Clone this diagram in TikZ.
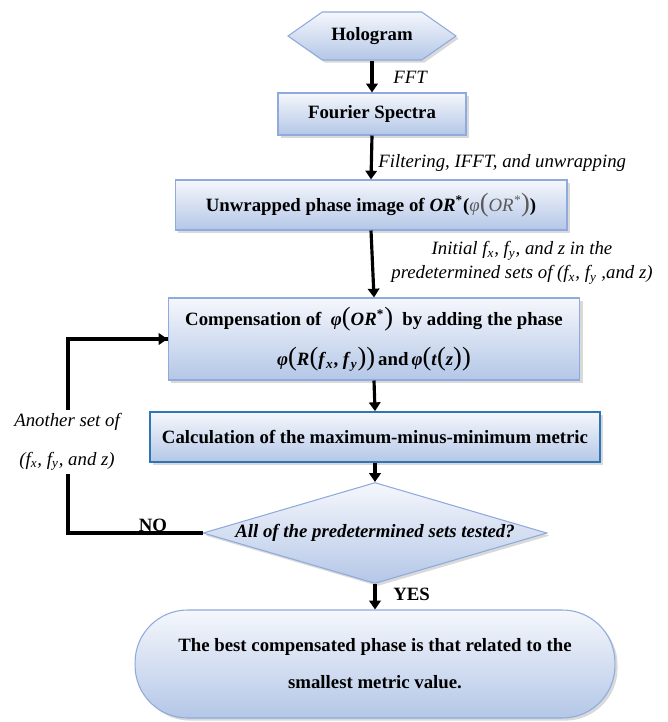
\documentclass[tikz,border=0pt]{standalone}
\usepackage{fontspec}
\setmainfont{Liberation Serif}
\usetikzlibrary{shapes.geometric,shapes.symbols,arrows.meta,shadows}
\definecolor{boxtop}{HTML}{F5F7FC}
\definecolor{boxbot}{HTML}{B4C7E7}
\definecolor{boxline}{HTML}{8FAADC}
\definecolor{calcline}{HTML}{2E75B6}
\definecolor{phasegray}{HTML}{5A5A5A}
\newcommand{\opar}{{\fontsize{15}{15}\selectfont\mdseries\upshape(}}
\newcommand{\cpar}{{\fontsize{15}{15}\selectfont\mdseries\upshape)}}
\newcommand{\bi}[1]{\textbf{\textit{#1}}}

\begin{document}
\begin{tikzpicture}[x=0.02cm,y=-0.02cm,
  font=\fontsize{10.7}{13}\selectfont,
  box/.style={draw=boxline,line width=0.6pt,top color=boxtop,bottom color=boxbot,
    font=\fontsize{10.7}{13}\selectfont\bfseries,align=center,inner sep=0pt,
    drop shadow={shadow xshift=1.5pt,shadow yshift=-1.5pt,opacity=0.3}},
  flow/.style={line width=1.8pt,-{Triangle[length=5pt,width=6.5pt]}},
  lbl/.style={font=\fontsize{10.7}{13}\selectfont\itshape,inner sep=0pt}]
\useasboundingbox (0,0) rectangle (668,722);
% Process steps
\node[box,shape=signal,signal to=west and east,signal pointer angle=70,
  minimum width=3.36cm,minimum height=0.96cm] (holo) at (372,36) {Hologram};
\node[box,minimum width=3.76cm,minimum height=0.84cm] (fourier) at (372,114) {Fourier Spectra};
\node[box,minimum width=7.84cm,minimum height=1.0cm] (unwrap) at (371,205)
  {Unwrapped phase image of \bi{OR}\textsuperscript{*}(\textcolor{phasegray}{\mdseries\itshape φ\opar OR\textsuperscript{*}\cpar})};
\node[box,minimum width=8.24cm,minimum height=1.64cm] (comp) at (374,339)
  {Compensation of \ \bi{φ}\opar\bi{OR}\textsuperscript{*}\cpar\ \ by adding the phase\\[8pt]
   \bi{φ}\opar\bi{R}\opar\bi{f}\textsubscript{\bi{x}}, \bi{f}\textsubscript{\bi{y}}\cpar\cpar\,and\,\bi{φ}\opar\bi{t}\opar\bi{z}\cpar\cpar};
\node[box,draw=calcline,line width=1pt,minimum width=9.0cm,minimum height=1.0cm] (calc) at (375,437)
  {Calculation of the maximum-minus-minimum metric};
\node[box,shape=diamond,aspect=3.4,drop shadow={opacity=0},font=\fontsize{10.7}{13}\selectfont\bfseries\itshape,
  minimum width=6.88cm,minimum height=2.02cm] (test) at (375,533)
  {All of the predetermined sets tested?};
\node[box,rounded corners=1.05cm,minimum width=9.6cm,minimum height=2.16cm] (best) at (375,664)
  {The best compensated phase is that related to the\\[8pt]smallest metric value.};
% Connectors
\foreach \a/\b in {holo/fourier,fourier/unwrap,unwrap/comp,comp/calc,calc/test,test/best} {
  \draw[flow] (\a.south) -- (\b.north);
}
\coordinate (loop) at (68,0);
\draw[line width=1.8pt] (test.west) -- (test.west -| loop) |- (comp.west);
\draw[flow] (loop |- comp.west) -- (comp.west);
% Labels
\node[lbl,anchor=west] (fftlbl) at (393,77) {FFT};
\node[lbl,anchor=west] (filtlbl) at (378,163) {Filtering, IFFT, and unwrapping};
\node[lbl,align=center,font=\fontsize{10.7}{13.6}\selectfont\itshape] (initlbl) at (522,263)
  {Initial \textit{f}\textsubscript{x}, \textit{f}\textsubscript{y}, and z in the\\
   predetermined sets of (\textit{f}\textsubscript{x}, \textit{f}\textsubscript{y} ,and z)};
\node[lbl,align=center,fill=white,inner sep=2pt] (setlbl) at (67,442)
  {Another set of\\[9pt](\textit{f}\textsubscript{x}, \textit{f}\textsubscript{y}, and z)};
\node[font=\fontsize{10.7}{13}\selectfont\bfseries,inner sep=0pt] (nolbl) at (153,525) {NO};
\node[font=\fontsize{10.7}{13}\selectfont\bfseries,inner sep=0pt,anchor=west] (yeslbl) at (393,594) {YES};
\end{tikzpicture}
\end{document}
